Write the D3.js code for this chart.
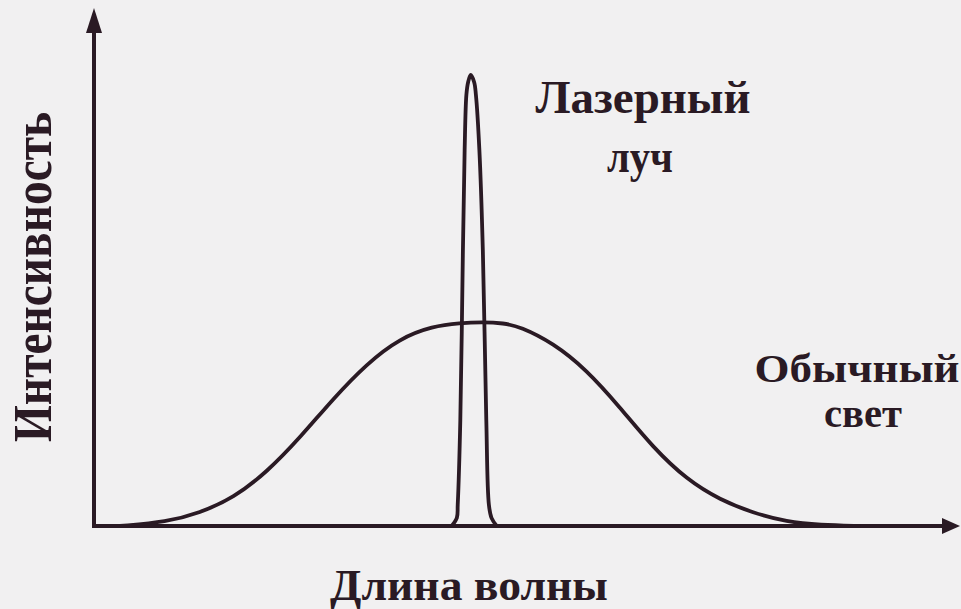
<!DOCTYPE html>
<html>
<head>
<meta charset="utf-8">
<script src="https://cdn.jsdelivr.net/npm/d3@7"></script>
<style>
  html, body { margin: 0; padding: 0; background: #f1f0f1; }
  svg { display: block; }
</style>
</head>
<body>
<svg id="chart" width="961" height="609"></svg>
<script>
// ---- Data (x = wavelength units 0..100, y = intensity units 0..100) ----
const broadX = [3.0, 8.4, 12.2, 16.1, 20.0, 23.8, 27.6, 31.5, 35.3, 39.1, 42.3, 44.8, 47.3, 49.2, 53.0, 56.9, 60.7, 64.5, 68.5, 72.3, 76.1, 80.0, 83.8, 88.5];
const broadY = [0.0, 0.9, 2.9, 6.2, 12.0, 19.6, 28.2, 36.0, 41.6, 44.3, 45.0, 45.2, 45.0, 44.2, 40.6, 34.6, 26.4, 17.5, 10.2, 5.8, 2.9, 0.9, 0.2, 0.0];

const laserX = [41.3, 41.9, 42.0, 42.3, 42.6, 42.8, 43.0, 43.2, 43.5, 43.9, 44.1, 44.5, 44.9, 45.3, 45.6, 45.9, 46.5];
const laserY = [0.0, 1.8, 4.7, 23.5, 61.2, 83.4, 95.6, 98.4, 100.0, 98.4, 95.6, 83.4, 61.2, 23.5, 4.7, 1.8, 0.0];

const xAxisLabel = "Длина волны";
const yAxisLabel = "Интенсивность";
const laserLabel = ["Лазерный", "луч"];
const lightLabel = ["Обычный", "свет"];

// ---- Drawing ----
const svg = d3.select("#chart");
const ink = "#2a1a24";
const origin = {x: 94, y: 526};

const x = d3.scaleLinear().domain([0, 100]).range([origin.x, 960]);
const y = d3.scaleLinear().domain([0, 100]).range([origin.y, 75]);

// axes
svg.append("line")
  .attr("x1", origin.x).attr("y1", origin.y + 1.5)
  .attr("x2", origin.x).attr("y2", 28)
  .attr("stroke", ink).attr("stroke-width", 4);
svg.append("path")
  .attr("d", `M${origin.x},8 L${origin.x - 8},33 L${origin.x + 8},33 Z`)
  .attr("fill", ink);

svg.append("line")
  .attr("x1", origin.x - 2).attr("y1", origin.y)
  .attr("x2", 946).attr("y2", origin.y)
  .attr("stroke", ink).attr("stroke-width", 4);
svg.append("path")
  .attr("d", `M960,${origin.y} L942,${origin.y - 8} L942,${origin.y + 8} Z`)
  .attr("fill", ink);

// broad curve (ordinary light)
const broad = broadX.map((v, i) => [v, broadY[i]]);
svg.append("path")
  .datum(broad)
  .attr("d", d3.line().x(d => x(d[0])).y(d => y(d[1])).curve(d3.curveBasis))
  .attr("fill", "none").attr("stroke", ink).attr("stroke-width", 3.8);

// laser line
const laser = laserX.map((v, i) => [v, laserY[i]]);
svg.append("path")
  .datum(laser)
  .attr("d", d3.line().x(d => x(d[0])).y(d => y(d[1])).curve(d3.curveCatmullRom.alpha(0.5)))
  .attr("fill", "none").attr("stroke", ink).attr("stroke-width", 3.8)
  .attr("stroke-linejoin", "round");

// labels
const font = "'Liberation Serif', 'DejaVu Serif', serif";
function twoLine(lines, size, specs) {
  const t = svg.append("text")
    .attr("font-family", font).attr("font-weight", "bold")
    .attr("font-size", size).attr("fill", ink)
    .attr("text-anchor", "middle");
  lines.forEach((s, i) => {
    t.append("tspan")
      .attr("x", specs[i].x).attr("y", specs[i].y)
      .attr("textLength", specs[i].len).attr("lengthAdjust", "spacingAndGlyphs")
      .text(s);
  });
  return t;
}
twoLine(laserLabel, 47, [{x: 643, y: 113, len: 215}, {x: 640, y: 172, len: 66}]);
twoLine(lightLabel, 40, [{x: 857, y: 382, len: 205}, {x: 863, y: 426.5, len: 78}]);

svg.append("text")
  .attr("x", 469).attr("y", 600)
  .attr("font-family", font).attr("font-weight", "bold")
  .attr("font-size", 44).attr("fill", ink)
  .attr("text-anchor", "middle")
  .attr("textLength", 278).attr("lengthAdjust", "spacingAndGlyphs")
  .text(xAxisLabel);

svg.append("text")
  .attr("transform", "translate(51,277) rotate(-90)")
  .attr("font-family", font).attr("font-weight", "bold")
  .attr("font-size", 55).attr("fill", ink)
  .attr("text-anchor", "middle")
  .attr("textLength", 330).attr("lengthAdjust", "spacingAndGlyphs")
  .text(yAxisLabel);
</script>
</body>
</html>
